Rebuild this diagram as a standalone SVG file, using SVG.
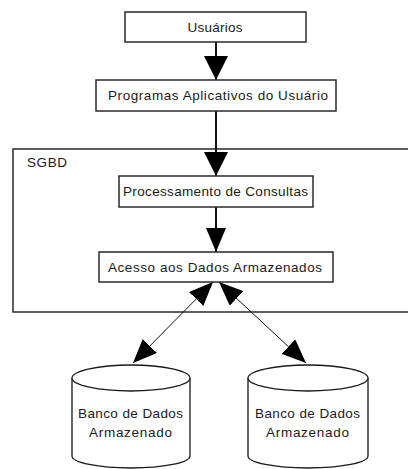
<svg xmlns="http://www.w3.org/2000/svg" width="408" height="469" viewBox="0 0 408 469">
  <style>
    .box { fill: #ffffff; stroke: #2a2a2a; stroke-width: 1.5; }
    .frame { fill: none; stroke: #2a2a2a; stroke-width: 1.5; }
    .flow { fill: none; stroke: #111; stroke-width: 2; }
    .link { fill: none; stroke: #111; stroke-width: 1; }
    .db { fill: #ffffff; stroke: #1a1a1a; stroke-width: 1.3; }
    text { font-family: "Liberation Sans", Arial, sans-serif; font-size: 13.5px; fill: #1a1a1a; }
    .c { text-anchor: middle; }
  </style>
  <defs>
    <marker id="head" viewBox="0 0 24 24" markerUnits="userSpaceOnUse" markerWidth="24" markerHeight="24" refX="24" refY="12" orient="auto-start-reverse">
      <path d="M0,0 L24,12 L0,24 Z" fill="#000"/>
    </marker>
    <marker id="headS" viewBox="0 0 24 20" markerUnits="userSpaceOnUse" markerWidth="24" markerHeight="20" refX="24" refY="10" orient="auto-start-reverse">
      <path d="M0,0 L24,10 L0,20 Z" fill="#000"/>
    </marker>
  </defs>

  <!-- DBMS boundary -->
  <g id="sgbd">
    <rect class="frame" x="13" y="149" width="400" height="163"/>
    <text x="27" y="167" textLength="40" lengthAdjust="spacing">SGBD</text>
  </g>

  <g id="connectors">
    <line class="flow" x1="216" y1="42" x2="216" y2="80" marker-end="url(#head)"/>
    <line class="flow" x1="216" y1="111" x2="216" y2="176" marker-end="url(#head)"/>
    <line class="flow" x1="216" y1="207" x2="216" y2="252" marker-end="url(#headS)"/>
    <line class="link" x1="133" y1="363" x2="213" y2="282" marker-start="url(#headS)" marker-end="url(#headS)"/>
    <line class="link" x1="306" y1="363" x2="219" y2="282" marker-start="url(#headS)" marker-end="url(#headS)"/>
  </g>

  <g id="usuarios">
    <rect class="box" x="125" y="12" width="181" height="30"/>
    <text class="c" x="215" y="32" textLength="55" lengthAdjust="spacing">Usuários</text>
  </g>

  <g id="programas">
    <rect class="box" x="96" y="80" width="240" height="31"/>
    <text class="c" x="218" y="100" textLength="220" lengthAdjust="spacing">Programas Aplicativos do Usuário</text>
  </g>

  <g id="processamento">
    <rect class="box" x="119" y="176" width="194" height="31"/>
    <text class="c" x="215.5" y="196" textLength="185" lengthAdjust="spacing">Processamento de Consultas</text>
  </g>

  <g id="acesso">
    <rect class="box" x="99" y="252" width="234" height="30"/>
    <text class="c" x="215" y="272" textLength="214" lengthAdjust="spacing">Acesso aos Dados Armazenados</text>
  </g>

  <g id="banco1">
    <path class="db" d="M72,378 L72,456 A59,12 0 0 0 190,456 L190,378"/>
    <ellipse class="db" cx="131" cy="378" rx="59" ry="13"/>
    <text class="c" x="130.5" y="418" textLength="105" lengthAdjust="spacing">Banco de Dados</text>
    <text class="c" x="130.5" y="437" textLength="83" lengthAdjust="spacing">Armazenado</text>
  </g>

  <g id="banco2">
    <path class="db" d="M248,378 L248,456 A60,12 0 0 0 368,456 L368,378"/>
    <ellipse class="db" cx="308" cy="378" rx="60" ry="13"/>
    <text class="c" x="307.5" y="418" textLength="105" lengthAdjust="spacing">Banco de Dados</text>
    <text class="c" x="307.5" y="437" textLength="83" lengthAdjust="spacing">Armazenado</text>
  </g>
</svg>
